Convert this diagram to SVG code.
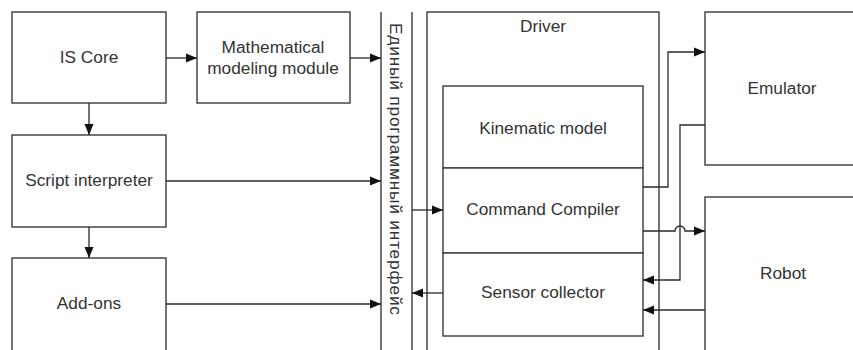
<svg xmlns="http://www.w3.org/2000/svg" width="853" height="350" viewBox="0 0 853 350">
<style>
.box{fill:#fff;stroke:#3a3a3a;stroke-width:1.4}
.ln{fill:none;stroke:#2a2a2a;stroke-width:1.3}
.t{font-family:"Liberation Sans",Arial,sans-serif;font-size:17.3px;fill:#333;text-anchor:middle;dominant-baseline:central}
</style>
<defs>
<marker id="ah" viewBox="0 0 11 10" refX="11" refY="5" markerWidth="11" markerHeight="10" markerUnits="userSpaceOnUse" orient="auto">
<path d="M0,0.5 L11,5 L0,9.5 Z" fill="#111"/>
</marker>
</defs>
<rect width="853" height="350" fill="#fff"/>
<g id="is-core"><rect class="box" x="12" y="12" width="154" height="91"/><text class="t" x="89" y="57">IS Core</text></g>
<g id="math"><rect class="box" x="197" y="12" width="153" height="91"/><text class="t" x="273" y="47">Mathematical</text><text class="t" x="273" y="68">modeling module</text></g>
<g id="script"><rect class="box" x="12" y="135" width="154" height="92"/><text class="t" x="89" y="180">Script interpreter</text></g>
<g id="addons"><rect class="box" x="12" y="258" width="154" height="100"/><text class="t" x="89" y="303">Add-ons</text></g>
<g id="interface"><line class="ln" x1="381" y1="12" x2="381" y2="350"/><line class="ln" x1="412" y1="12" x2="412" y2="350"/><text class="t" transform="translate(396,169) rotate(90)" textLength="292" lengthAdjust="spacing">Единый программный интерфейс</text></g>
<g id="driver"><rect class="box" x="427" y="12" width="232" height="345"/><text class="t" x="543" y="26">Driver</text></g>
<g id="kinematic"><rect class="box" x="443" y="86" width="200" height="82"/><text class="t" x="543" y="128">Kinematic model</text></g>
<g id="compiler"><rect class="box" x="443" y="168" width="200" height="85"/><text class="t" x="543" y="209">Command Compiler</text></g>
<g id="sensor"><rect class="box" x="443" y="253" width="200" height="83"/><text class="t" x="543" y="292">Sensor collector</text></g>
<g id="emulator"><rect class="box" x="705" y="12" width="160" height="153"/><text class="t" x="782" y="88">Emulator</text></g>
<g id="robot"><rect class="box" x="705" y="197" width="160" height="165"/><text class="t" x="783" y="273">Robot</text></g>
<g id="connectors">
<line class="ln" x1="166" y1="58" x2="197" y2="58" marker-end="url(#ah)"/>
<line class="ln" x1="350" y1="58" x2="381" y2="58" marker-end="url(#ah)"/>
<line class="ln" x1="89" y1="103" x2="89" y2="135" marker-end="url(#ah)"/>
<line class="ln" x1="89" y1="227" x2="89" y2="258" marker-end="url(#ah)"/>
<line class="ln" x1="166" y1="181" x2="381" y2="181" marker-end="url(#ah)"/>
<line class="ln" x1="166" y1="304" x2="381" y2="304" marker-end="url(#ah)"/>
<line class="ln" x1="412" y1="210" x2="443" y2="210" marker-end="url(#ah)"/>
<line class="ln" x1="443" y1="293" x2="412" y2="293" marker-end="url(#ah)"/>
<polyline class="ln" points="643,187 668,187 668,52 705,52" marker-end="url(#ah)"/>
<polyline class="ln" points="705,125 680,125 680,280 643,280" marker-end="url(#ah)"/>
<path class="ln" d="M643,231 H675 A5,5 0 0 1 685,231 H705" marker-end="url(#ah)"/>
<line class="ln" x1="705" y1="310" x2="643" y2="310" marker-end="url(#ah)"/>
</g>
</svg>
